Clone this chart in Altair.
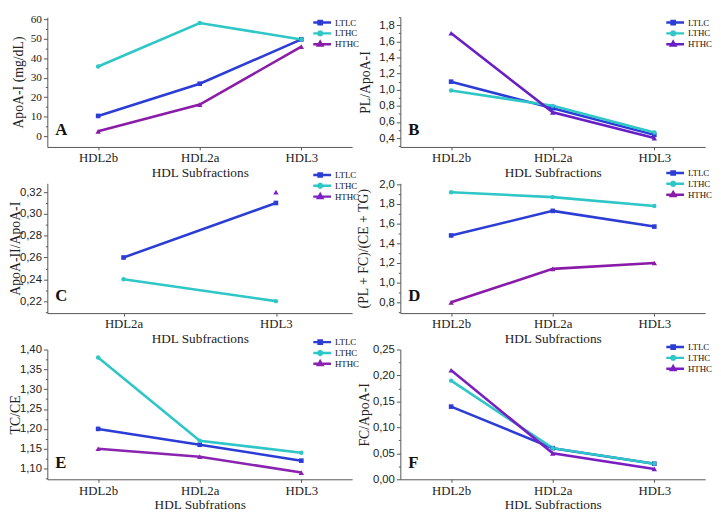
import altair as alt
import pandas as pd

# ---------------- data ----------------
series = ["LTLC", "LTHC", "HTHC"]
cats3 = ["HDL2b", "HDL2a", "HDL3"]
catsC = ["HDL2a", "HDL3"]

A_LTLC = [10.4, 26.9, 49.6]
A_LTHC = [35.7, 58.0, 49.6]
A_HTHC = [2.5, 16.2, 45.9]

B_LTLC = [1.10, 0.77, 0.44]
B_LTHC = [0.99, 0.80, 0.47]
B_HTHC = [1.70, 0.72, 0.40]

C_LTLC = [0.26, 0.31]
C_LTHC = [0.24, 0.22]
C_HTHC = [None, 0.32]

D_LTLC = [1.48, 1.73, 1.57]
D_LTHC = [1.92, 1.87, 1.78]
D_HTHC = [0.80, 1.14, 1.20]

E_LTLC = [1.20, 1.16, 1.12]
E_LTHC = [1.38, 1.17, 1.14]
E_HTHC = [1.15, 1.13, 1.09]

F_LTLC = [0.14, 0.06, 0.03]
F_LTHC = [0.19, 0.06, 0.03]
F_HTHC = [0.21, 0.05, 0.02]

BLUE = "#2c3dd6"
CYAN = "#2ec6c6"

W = 310
H = 132


def jsarr(vals):
    return "[" + ",".join(repr(v) for v in vals) + "]"


def panel(letter, cats, vals, ytitle, ydom, majors, minors, fmt, label_font,
          title_x, purple, xtitle, leg_y):
    rows = []
    for s, v in zip(series, vals):
        for i, (c, y) in enumerate(zip(cats, v)):
            if y is not None:
                rows.append({"cat": c, "series": s, "value": y, "idx": i})
    df = pd.DataFrame(rows)

    cscale = alt.Scale(domain=series, range=[BLUE, CYAN, purple])
    ticks = sorted(set(majors) | set(minors))
    is_major = "indexof(" + jsarr(majors) + ", datum.value) >= 0"
    if fmt == "d":
        lab = "format(datum.value, 'd')"
    else:
        lab = "replace(format(datum.value, '" + fmt + "'), '.', ',')"

    xenc = alt.X(
        "cat:N",
        sort=cats,
        scale=alt.Scale(domain=cats, type="point", padding=0.5),
        axis=alt.Axis(
            title=xtitle, labelAngle=0, tickSize=3, labelPadding=2,
            titlePadding=1, labelFont="Liberation Serif", labelFontSize=13,
            titleFont="Liberation Serif", titleFontSize=13.5,
            titleFontWeight="normal",
        ),
    )
    yenc = alt.Y(
        "value:Q",
        scale=alt.Scale(domain=ydom, nice=False, zero=False),
        axis=alt.Axis(
            title=ytitle, values=ticks, labelExpr=is_major + " ? " + lab + " : ''",
            tickSize={"condition": {"test": is_major, "value": 4}, "value": 2},
            labelPadding=2, labelFont=label_font, labelFontSize=11.5,
            titleFont="Liberation Serif", titleFontSize=14, titleFontWeight="normal",
            titleX=title_x, titleBaseline="middle",
        ),
    )
    base = alt.Chart(df)
    leg = alt.Legend(
        title=None, orient="none", legendX=W - 39.5, legendY=leg_y,
        symbolSize=121, symbolStrokeWidth=2.5, symbolOpacity=1,
        labelFont="Liberation Serif", labelFontSize=9, labelColor="#111",
        labelOffset=8, rowPadding=0, padding=0, clipHeight=11,
    )
    paths = [
        "M-2,0H2M-0.3,-0.3H0.3V0.3H-0.3Z",
        "M-2,0H2M0.35,0L0.25,0.25L0,0.35L-0.25,0.25L-0.35,0L-0.25,-0.25L0,-0.35L0.25,-0.25Z",
        "M-2,0H2M0,-0.45L0.4,0.25H-0.4Z",
    ]
    legend_layer = (
        base.mark_point(filled=False, strokeWidth=2.5)
        .encode(
            x=xenc, y=yenc,
            color=alt.Color("series:N", scale=cscale, legend=leg),
            shape=alt.Shape("series:N", scale=alt.Scale(domain=series, range=paths), legend=leg),
        )
        .transform_filter("false")
    )
    line = base.mark_line(strokeWidth=2.6).encode(
        x=xenc, y=yenc,
        color=alt.Color("series:N", scale=cscale, legend=None),
        order=alt.Order("idx:Q"),
    )
    shapes = ["square", "circle", "triangle-up"]
    sizes = [22, 20, 30]
    pts = []
    for s, sh, sz in zip(series, shapes, sizes):
        pts.append(
            base.mark_point(shape=sh, filled=True, size=sz, opacity=1)
            .encode(x=xenc, y=yenc,
                    color=alt.Color("series:N", scale=cscale, legend=None))
            .transform_filter(alt.datum.series == s)
        )
    letter_layer = (
        alt.Chart(pd.DataFrame({"t": [letter]}))
        .mark_text(font="Liberation Serif", fontWeight="bold", fontSize=17,
                   align="left", baseline="middle", color="#111")
        .encode(text="t:N", x=alt.value(8), y=alt.value(H - 17))
    )
    return alt.layer(legend_layer, line, *pts, letter_layer).properties(width=W, height=H)


def rng(a, b, step):
    out = []
    n = int(round((b - a) / step))
    for k in range(n + 1):
        out.append(round(a + k * step, 4))
    return out


pA = panel("A", cats3, [A_LTLC, A_LTHC, A_HTHC], "ApoA-I (mg/dL)", [-5.5, 61],
           rng(0, 60, 10), rng(5, 55, 10), "d", "Liberation Serif", -29, "#8a1ca8",
           "HDL Subfractions", 0)
pB = panel("B", cats3, [B_LTLC, B_LTHC, B_HTHC], "PL/ApoA-I", [0.29, 1.9],
           rng(0.4, 1.8, 0.2), rng(0.3, 1.9, 0.2), ".1f", "Liberation Sans", -35, "#6a1ec6",
           "HDL Subfractions", 0)
pC = panel("C", catsC, [C_LTLC, C_LTHC, C_HTHC], "ApoA-II/ApoA-I", [0.209, 0.328],
           rng(0.22, 0.32, 0.02), rng(0.21, 0.31, 0.02), ".2f", "Liberation Sans", -32, "#7d22c4",
           "HDL Subfractions", -14)
pD = panel("D", cats3, [D_LTLC, D_LTHC, D_HTHC], "(PL + FC)/(CE + TG)", [0.69, 2.01],
           rng(0.8, 2.0, 0.2), rng(0.7, 1.9, 0.2), ".1f", "Liberation Sans", -37, "#8a1aa8",
           "HDL Subfractions", -16)
pE = panel("E", cats3, [E_LTLC, E_LTHC, E_HTHC], "TC/CE", [1.073, 1.40],
           rng(1.10, 1.40, 0.05), rng(1.075, 1.375, 0.05), ".2f", "Liberation Sans", -32, "#8a24b0",
           "HDL Subfrations", -13)
pF = panel("F", cats3, [F_LTLC, F_LTHC, F_HTHC], "FC/ApoA-I", [0, 0.25],
           rng(0.0, 0.25, 0.05), rng(0.025, 0.225, 0.05), ".2f", "Liberation Sans", -36, "#7a1ec2",
           "HDL Subfractions", -8)

chart = (
    alt.concat(pA, pB, pC, pD, pE, pF, columns=2, bounds="flush",
               spacing={"row": 37, "column": 49})
    .resolve_scale(color="independent", shape="independent")
    .resolve_legend(color="independent", shape="independent")
    .properties(padding=0, background="white")
    .configure_view(stroke=None)
    .configure_axis(
        grid=False, domainColor="#555", tickColor="#555", labelColor="#222",
        titleColor="#222", domainWidth=1,
    )
)

chart.save("out.html", embed_options={"renderer": "svg", "actions": False})
